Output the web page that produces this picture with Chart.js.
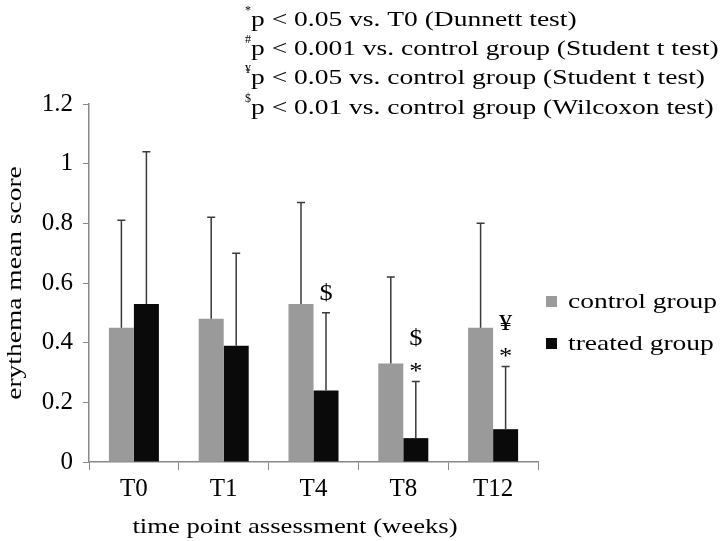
<!DOCTYPE html>
<html>
<head>
<meta charset="utf-8">
<script src="https://cdn.jsdelivr.net/npm/chart.js@4.4.0/dist/chart.umd.min.js"></script>
<style>
  html, body { margin: 0; padding: 0; background: #fff; }
  canvas { display: block; }
</style>
</head>
<body>
<canvas id="chart" width="720" height="541"></canvas>
<script>
// data
const timePoints = ['T0', 'T1', 'T4', 'T8', 'T12'];
const controlMean = [0.45, 0.48, 0.53, 0.33, 0.45];
const controlUpper = [0.81, 0.82, 0.87, 0.62, 0.80];
const treatedMean = [0.53, 0.39, 0.24, 0.08, 0.11];
const treatedUpper = [1.04, 0.70, 0.50, 0.27, 0.32];
// significance marks above treated bars, top to bottom
const treatedMarks = [[], [], ['$'], ['$', '*'], ['¥', '*']];
const footnotes = [
    ['*', 'p < 0.05 vs. T0 (Dunnett test)'],
    ['#', 'p < 0.001 vs. control group (Student t test)'],
    ['¥', 'p < 0.05 vs. control group (Student t test)'],
    ['$', 'p < 0.01 vs. control group (Wilcoxon test)']
];

const serif = "'Liberation Serif', 'Times New Roman', serif";
const STRETCH = 1.25; // the original text is drawn wide

function wideText(ctx, text, x, y, sx) {
    ctx.save();
    ctx.translate(x, y);
    ctx.scale(sx, 1);
    ctx.fillText(text, 0, 0);
    ctx.restore();
}

// error bars, marks, legend and text
const extrasPlugin = {
    id: 'extras',
    afterDatasetsDraw(chart) {
        const ctx = chart.ctx;
        const yScale = chart.scales.y;
        const uppers = [controlUpper, treatedUpper];

        ctx.save();
        ctx.strokeStyle = '#3a3a3a';
        ctx.lineWidth = 1.5;
        chart.data.datasets.forEach((ds, di) => {
            const meta = chart.getDatasetMeta(di);
            meta.data.forEach((bar, i) => {
                const yTop = yScale.getPixelForValue(uppers[di][i]);
                ctx.beginPath();
                ctx.moveTo(bar.x, bar.y);
                ctx.lineTo(bar.x, yTop);
                ctx.moveTo(bar.x - 4, yTop);
                ctx.lineTo(bar.x + 4, yTop);
                ctx.stroke();
            });
        });

        // marks above treated error bars
        ctx.fillStyle = '#000';
        ctx.textAlign = 'center';
        ctx.textBaseline = 'middle';
        const tMeta = chart.getDatasetMeta(1);
        treatedMarks.forEach((marks, i) => {
            const bar = tMeta.data[i];
            let y = yScale.getPixelForValue(treatedUpper[i]) - 16;
            for (let k = marks.length - 1; k >= 0; k--) {
                const m = marks[k];
                ctx.font = '24px ' + serif;
                wideText(ctx, m, bar.x, m === '*' ? y + 6 : y - 3, 1.1);
                y -= 24;
            }
        });

        // legend on the right
        ctx.textAlign = 'left';
        ctx.font = '22px ' + serif;
        chart.data.datasets.forEach((ds, di) => {
            const cy = 302 + di * 42;
            ctx.fillStyle = ds.backgroundColor;
            ctx.fillRect(546, cy - 6, 11, 11);
            ctx.fillStyle = '#000';
            wideText(ctx, ds.label, 568, cy, STRETCH);
        });

        // footnotes at top
        footnotes.forEach((f, k) => {
            const cy = 20 + k * 29.3;
            ctx.font = '12px ' + serif;
            ctx.fillText(f[0], 245, cy - 9);
            ctx.font = '22px ' + serif;
            wideText(ctx, f[1], 251, cy, STRETCH);
        });

        // axis titles
        ctx.textAlign = 'center';
        ctx.font = '22px ' + serif;
        wideText(ctx, 'time point assessment (weeks)', 295, 527, STRETCH * 0.97);
        ctx.translate(15, 283);
        ctx.rotate(-Math.PI / 2);
        wideText(ctx, 'erythema mean score', 0, 0, STRETCH);
        ctx.restore();
    }
};

function drawChart() {
    new Chart(document.getElementById('chart'), {
        type: 'bar',
        data: {
            labels: timePoints,
            datasets: [
                {
                    label: 'control group',
                    data: controlMean,
                    backgroundColor: '#9a9a9a',
                    categoryPercentage: 0.557,
                    barPercentage: 1.0
                },
                {
                    label: 'treated group',
                    data: treatedMean,
                    backgroundColor: '#0a0a0a',
                    categoryPercentage: 0.557,
                    barPercentage: 1.0
                }
            ]
        },
        options: {
            responsive: false,
            animation: false,
            devicePixelRatio: 1,
            layout: {
                padding: { left: 0, top: 104, right: 182, bottom: 0 }
            },
            plugins: {
                legend: { display: false },
                tooltip: { enabled: false }
            },
            scales: {
                x: {
                    grid: {
                        offset: true,
                        drawOnChartArea: false,
                        tickLength: 8,
                        color: '#888'
                    },
                    border: { color: '#888', width: 1.5 },
                    ticks: {
                        color: '#000',
                        font: { family: serif, size: 25 },
                        padding: 4
                    },
                    afterFit(scale) { scale.height = 79; }
                },
                y: {
                    min: 0,
                    max: 1.2,
                    grid: {
                        drawOnChartArea: false,
                        tickLength: 6,
                        color: '#888'
                    },
                    border: { color: '#888', width: 1.5 },
                    ticks: {
                        stepSize: 0.2,
                        color: '#000',
                        font: { family: serif, size: 25 },
                        padding: 10,
                        callback: v => String(Number(v.toFixed(1)))
                    },
                    afterFit(scale) { scale.width = 89; }
                }
            }
        },
        plugins: [extrasPlugin]
    });
}

// make sure the serif face is loaded before the canvas draws
document.fonts.load('24px "Liberation Serif"').then(drawChart, drawChart);
</script>
</body>
</html>
